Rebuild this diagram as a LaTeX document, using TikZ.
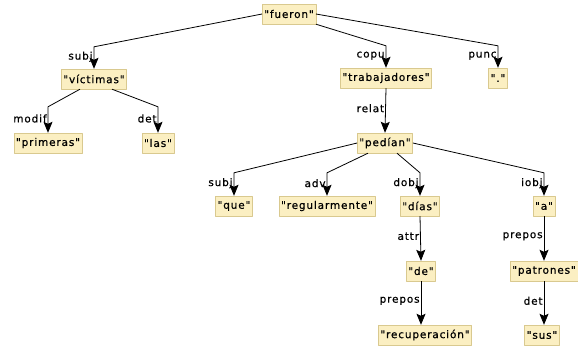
\documentclass[tikz,border=0pt]{standalone}
\usepackage{fontspec}
\setmainfont{DejaVu Sans}[Ligatures=TeXOff,LetterSpace=8,FakeBold=0.6]
\usepackage{xcolor}
\usetikzlibrary{arrows.meta}
\definecolor{tokfill}{HTML}{FBEFC2}
\definecolor{tokdraw}{HTML}{D9C98F}
\tikzset{
  every picture/.style={font=\fontsize{10.5}{12}\selectfont, line join=round},
  tok/.style={draw=tokdraw,fill=tokfill,inner sep=2pt,minimum height=20pt},
  edge/.style={line width=0.8pt,-{Stealth[length=11pt,width=9pt,inset=2pt]}},
  rel/.style={left,inner sep=1pt,pos=0.45},
}

\begin{document}
\begin{tikzpicture}[x=1pt,y=-1pt]
\useasboundingbox (0,0) rectangle (578,351);
\node[tok](fueron) at (289,14) {"fueron"};
\node[tok](victimas) at (94,79) {"víctimas"};
\node[tok](primeras) at (48,143) {"primeras"};
\node[tok](las) at (158,143) {"las"};
\node[tok](trabajadores) at (386,78) {"trabajadores"};
\node[tok](punto) at (498,78) {"."};
\node[tok](pedian) at (385,143) {"pedían"};
\node[tok](que) at (234,206) {"que"};
\node[tok](regularmente) at (327,206) {"regularmente"};
\node[tok](dias) at (420,206) {"días"};
\node[tok](a) at (544,206) {"a"};
\node[tok](de) at (421,271) {"de"};
\node[tok](patrones) at (544,271) {"patrones"};
\node[tok](recuperacion) at (425,335) {"recuperación"};
\node[tok](sus) at (542,335) {"sus"};
% fueron
\draw[edge](fueron.west)--([yshift=22pt]victimas.north)--node[rel]{subj}(victimas.north);
\draw[edge](fueron.south east)--([yshift=22pt]trabajadores.north)--node[rel]{copu}(trabajadores.north);
\draw[edge](fueron.east)--([yshift=22pt]punto.north)--node[rel]{punc}(punto.north);
% victimas
\draw[edge]([xshift=-14pt]victimas.south)--([yshift=26pt]primeras.north)--node[rel]{modif}(primeras.north);
\draw[edge]([xshift=18pt]victimas.south)--([yshift=26pt]las.north)--node[rel]{det}(las.north);
% trabajadores
\draw[edge](trabajadores.south)--node[rel]{relat}(pedian.north);
% pedian
\draw[edge](pedian.west)--([yshift=23pt]que.north)--node[rel]{subj}(que.north);
\draw[edge]([xshift=-17pt]pedian.south)--([yshift=23pt]regularmente.north)--node[rel]{adv}(regularmente.north);
\draw[edge]([xshift=12pt]pedian.south)--([yshift=23pt]dias.north)--node[rel]{dobj}(dias.north);
\draw[edge](pedian.east)--([yshift=23pt]a.north)--node[rel]{iobj}(a.north);
% dias, de
\draw[edge](dias.south)--node[rel]{attr}(de.north);
\draw[edge](de.south)--node[rel]{prepos}(de.south|-recuperacion.north);
% a, patrones
\draw[edge](a.south)--node[rel]{prepos}(patrones.north);
\draw[edge](patrones.south)--node[rel]{det}(patrones.south|-sus.north);
\end{tikzpicture}
\end{document}
